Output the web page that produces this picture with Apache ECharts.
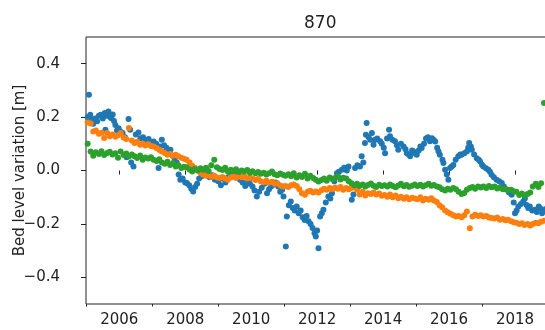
<!DOCTYPE html>
<html>
<head>
<meta charset="utf-8">
<script src="https://cdn.jsdelivr.net/npm/echarts@6.0.0/dist/echarts.min.js"></script>
<style>
  body { margin: 0; padding: 0; background: #fff; overflow: hidden; }
  #chart { width: 545px; height: 330px; }
</style>
</head>
<body>
<div id="chart"></div>
<script>
// monthly sample dates (decimal years) shared by the orange and green series
const sampleYears = [
  2005.04, 2005.13, 2005.21, 2005.29, 2005.38, 2005.46, 2005.54, 2005.63, 2005.71, 2005.79, 2005.88, 2005.96,
  2006.04, 2006.13, 2006.21, 2006.29, 2006.38, 2006.46, 2006.54, 2006.63, 2006.71, 2006.79, 2006.88, 2006.96,
  2007.04, 2007.13, 2007.21, 2007.29, 2007.38, 2007.46, 2007.54, 2007.63, 2007.71, 2007.79, 2007.88, 2007.96,
  2008.04, 2008.13, 2008.21, 2008.29, 2008.38, 2008.46, 2008.54, 2008.63, 2008.71, 2008.79, 2008.88, 2008.96,
  2009.04, 2009.13, 2009.21, 2009.29, 2009.38, 2009.46, 2009.54, 2009.63, 2009.71, 2009.79, 2009.88, 2009.96,
  2010.04, 2010.13, 2010.21, 2010.29, 2010.38, 2010.46, 2010.54, 2010.63, 2010.71, 2010.79, 2010.88, 2010.96,
  2011.04, 2011.13, 2011.21, 2011.29, 2011.38, 2011.46, 2011.54, 2011.63, 2011.71, 2011.79, 2011.88, 2011.96,
  2012.04, 2012.13, 2012.21, 2012.29, 2012.38, 2012.46, 2012.54, 2012.63, 2012.71, 2012.79, 2012.88, 2012.96,
  2013.04, 2013.13, 2013.21, 2013.29, 2013.38, 2013.46, 2013.54, 2013.63, 2013.71, 2013.79, 2013.88, 2013.96,
  2014.04, 2014.13, 2014.21, 2014.29, 2014.38, 2014.46, 2014.54, 2014.63, 2014.71, 2014.79, 2014.88, 2014.96,
  2015.04, 2015.13, 2015.21, 2015.29, 2015.38, 2015.46, 2015.54, 2015.63, 2015.71, 2015.79, 2015.88, 2015.96,
  2016.04, 2016.13, 2016.21, 2016.29, 2016.38, 2016.46, 2016.54, 2016.63, 2016.71, 2016.79, 2016.88, 2016.96,
  2017.04, 2017.13, 2017.21, 2017.29, 2017.38, 2017.46, 2017.54, 2017.63, 2017.71, 2017.79, 2017.88, 2017.96,
  2018.04, 2018.13, 2018.21, 2018.29, 2018.38, 2018.46, 2018.54, 2018.63, 2018.71, 2018.79, 2018.88, 2018.96
];

const orangeVals = [
  0.180, 0.176, 0.146, 0.150, 0.138, 0.141, 0.122, 0.140, 0.128, 0.135, 0.126, 0.132,
  0.140, 0.124, 0.118, 0.159, 0.112, 0.103, 0.108, 0.096, 0.100, 0.094, 0.098, 0.092,
  0.090, 0.084, 0.078, 0.071, 0.066, 0.059, 0.062, 0.055, 0.059, 0.053, 0.048, 0.044,
  0.040, 0.030, 0.018, 0.010, 0.000, -0.008, -0.015, -0.020, -0.018, -0.024, -0.020, -0.026,
  -0.028, -0.024, -0.030, -0.035, -0.026, -0.022, -0.028, -0.020, -0.025, -0.022, -0.030, -0.026,
  -0.030, -0.036, -0.032, -0.040, -0.044, -0.038, -0.046, -0.042, -0.050, -0.048, -0.056, -0.060,
  -0.058, -0.062, -0.055, -0.052, -0.058, -0.070, -0.085, -0.091, -0.080, -0.076, -0.082, -0.079,
  -0.082, -0.074, -0.068, -0.072, -0.066, -0.070, -0.064, -0.068, -0.062, -0.072, -0.066, -0.070,
  -0.066, -0.060, -0.072, -0.090, -0.080, -0.094, -0.085, -0.088, -0.082, -0.090, -0.086, -0.095,
  -0.092, -0.098, -0.090, -0.100, -0.094, -0.104, -0.098, -0.106, -0.100, -0.108, -0.102, -0.105,
  -0.108, -0.100, -0.112, -0.106, -0.110, -0.104, -0.112, -0.118, -0.130, -0.138, -0.150, -0.156,
  -0.162, -0.168, -0.172, -0.170, -0.175, -0.168, -0.154, -0.216, -0.172, -0.166, -0.170, -0.168,
  -0.172, -0.170, -0.176, -0.178, -0.180, -0.176, -0.184, -0.182, -0.186, -0.184, -0.190, -0.194,
  -0.196, -0.200, -0.198, -0.204, -0.200, -0.206, -0.200, -0.196, -0.198, -0.192, -0.188, -0.185
];

const greenVals = [
  0.100, 0.071, 0.055, 0.068, 0.062, 0.072, 0.058, 0.066, 0.070, 0.060, 0.065, 0.048,
  0.071, 0.058, 0.064, 0.052, 0.060, 0.053, 0.047, 0.056, 0.040, 0.049, 0.045, 0.050,
  0.040, 0.036, 0.042, 0.030, 0.025, 0.033, 0.021, 0.028, 0.015, 0.020, 0.009, 0.014,
  0.012, 0.004, -0.004, 0.006, 0.000, 0.008, 0.003, 0.010, -0.002, 0.020, 0.040, 0.012,
  0.006, 0.002, 0.010, -0.004, 0.003, -0.002, 0.005, -0.006, 0.000, -0.004, 0.002, -0.008,
  -0.003, -0.010, -0.006, -0.012, -0.008, -0.015, -0.010, -0.004, -0.014, -0.018, -0.011, -0.016,
  -0.020, -0.014, -0.022, -0.010, -0.026, -0.018, -0.024, -0.012, -0.030, -0.020, -0.028, -0.035,
  -0.041, -0.036, -0.030, -0.038, -0.026, -0.032, -0.028, -0.022, -0.034, -0.027, -0.030, -0.040,
  -0.048, -0.055, -0.050, -0.058, -0.052, -0.060, -0.054, -0.049, -0.057, -0.062, -0.053, -0.058,
  -0.055, -0.060, -0.052, -0.058, -0.063, -0.056, -0.050, -0.059, -0.054, -0.061, -0.057, -0.052,
  -0.058, -0.053, -0.060, -0.055, -0.050, -0.057, -0.054, -0.060, -0.063, -0.070, -0.075, -0.068,
  -0.072, -0.066, -0.070, -0.080, -0.088, -0.084, -0.072, -0.066, -0.062, -0.068, -0.060, -0.064,
  -0.060, -0.066, -0.058, -0.063, -0.060, -0.067, -0.064, -0.070, -0.068, -0.074, -0.072, -0.078,
  -0.080, -0.092, -0.086, -0.094, -0.088, -0.082, -0.060, -0.050, -0.062, -0.048, 0.253, -0.055
];

// blue series is irregular, so it keeps its own dates: [year, value]
const bluePoints = [
  [2005.04, 0.200], [2005.08, 0.284], [2005.12, 0.209], [2005.17, 0.190], [2005.21, 0.175], [2005.27, 0.195],
  [2005.33, 0.184], [2005.38, 0.205], [2005.44, 0.209], [2005.50, 0.195], [2005.56, 0.215], [2005.58, 0.153],
  [2005.62, 0.205], [2005.67, 0.221], [2005.72, 0.200], [2005.76, 0.196], [2005.80, 0.210], [2005.84, 0.185],
  [2005.88, 0.170], [2005.93, 0.150], [2005.98, 0.158],
  [2006.04, 0.145], [2006.10, 0.140], [2006.17, 0.125], [2006.22, 0.050], [2006.28, 0.193], [2006.33, 0.153],
  [2006.36, 0.030], [2006.43, 0.015], [2006.50, 0.135], [2006.58, 0.142], [2006.64, 0.121], [2006.72, 0.125],
  [2006.80, 0.112], [2006.89, 0.118], [2006.96, 0.105],
  [2007.04, 0.109], [2007.12, 0.100], [2007.19, 0.009], [2007.24, 0.090], [2007.29, 0.115], [2007.36, 0.095],
  [2007.43, 0.085], [2007.50, 0.070], [2007.55, 0.078], [2007.62, 0.055], [2007.68, 0.045], [2007.74, 0.030],
  [2007.80, -0.015], [2007.85, -0.035], [2007.92, -0.030],
  [2008.00, -0.045], [2008.05, -0.047], [2008.12, -0.055], [2008.18, -0.068], [2008.24, -0.079], [2008.30, -0.062],
  [2008.36, -0.050], [2008.42, -0.030], [2008.50, -0.022], [2008.58, -0.015], [2008.66, -0.010], [2008.74, -0.025],
  [2008.82, -0.018], [2008.90, -0.035],
  [2009.00, -0.040], [2009.08, -0.055], [2009.14, -0.030], [2009.22, -0.045], [2009.30, -0.025], [2009.40, -0.015],
  [2009.50, -0.010], [2009.58, -0.020], [2009.66, -0.035], [2009.74, -0.045], [2009.82, -0.058], [2009.90, -0.040],
  [2009.96, -0.050],
  [2010.04, -0.060], [2010.10, -0.075], [2010.17, -0.097], [2010.24, -0.080], [2010.32, -0.065], [2010.40, -0.050],
  [2010.48, -0.085], [2010.54, -0.070], [2010.60, -0.060], [2010.66, -0.054], [2010.74, -0.045], [2010.82, -0.060],
  [2010.88, -0.080], [2010.94, -0.072], [2010.98, -0.097],
  [2011.05, -0.285], [2011.08, -0.172], [2011.14, -0.130], [2011.20, -0.116], [2011.26, -0.140], [2011.32, -0.150],
  [2011.38, -0.135], [2011.44, -0.160], [2011.50, -0.150], [2011.56, -0.175], [2011.62, -0.185], [2011.68, -0.170],
  [2011.74, -0.190], [2011.80, -0.200], [2011.86, -0.215], [2011.92, -0.235], [2011.96, -0.247],
  [2012.00, -0.225], [2012.04, -0.291], [2012.09, -0.172], [2012.14, -0.160], [2012.19, -0.147], [2012.26, -0.120],
  [2012.34, -0.097], [2012.40, -0.105], [2012.45, -0.085], [2012.52, -0.040], [2012.60, -0.010], [2012.66, -0.005],
  [2012.75, 0.003], [2012.82, 0.010], [2012.90, 0.000], [2012.95, 0.015],
  [2013.05, -0.110], [2013.10, -0.090], [2013.15, 0.009], [2013.22, 0.020], [2013.30, 0.015], [2013.35, 0.053],
  [2013.40, 0.030], [2013.45, 0.103], [2013.48, 0.134], [2013.50, 0.178], [2013.56, 0.125], [2013.61, 0.115],
  [2013.66, 0.140], [2013.71, 0.096], [2013.76, 0.115], [2013.82, 0.120], [2013.91, 0.110], [2013.96, 0.100],
  [2014.02, 0.085], [2014.06, 0.065], [2014.12, 0.120], [2014.18, 0.153], [2014.21, 0.128], [2014.28, 0.115],
  [2014.36, 0.110], [2014.42, 0.095], [2014.46, 0.078], [2014.54, 0.100], [2014.62, 0.090], [2014.68, 0.080],
  [2014.72, 0.065], [2014.78, 0.060], [2014.82, 0.053], [2014.88, 0.075], [2014.92, 0.071], [2014.97, 0.065],
  [2015.02, 0.059], [2015.08, 0.075], [2015.13, 0.090], [2015.17, 0.084], [2015.24, 0.100], [2015.30, 0.120],
  [2015.36, 0.125], [2015.42, 0.110], [2015.48, 0.121], [2015.53, 0.115], [2015.58, 0.109], [2015.64, 0.085],
  [2015.68, 0.071], [2015.72, 0.059], [2015.80, 0.040], [2015.83, 0.028], [2015.88, 0.003], [2015.93, -0.015],
  [2015.98, -0.035],
  [2016.03, 0.009], [2016.08, 0.015], [2016.13, 0.021], [2016.20, 0.040], [2016.28, 0.053], [2016.34, 0.060],
  [2016.38, 0.059], [2016.46, 0.065], [2016.54, 0.071], [2016.58, 0.085], [2016.61, 0.103], [2016.66, 0.090],
  [2016.69, 0.078], [2016.76, 0.060], [2016.84, 0.046], [2016.90, 0.040], [2016.94, 0.034],
  [2017.00, 0.022], [2017.04, 0.015], [2017.12, 0.008], [2017.19, 0.003], [2017.24, -0.005], [2017.29, -0.016],
  [2017.36, -0.025], [2017.44, -0.035], [2017.52, -0.040], [2017.60, -0.047], [2017.66, -0.060], [2017.75, -0.072],
  [2017.82, -0.082], [2017.90, -0.091], [2017.96, -0.120],
  [2018.00, -0.160], [2018.05, -0.150], [2018.10, -0.135], [2018.18, -0.125], [2018.25, -0.116], [2018.30, -0.105],
  [2018.35, -0.129], [2018.40, -0.140], [2018.45, -0.135], [2018.52, -0.150], [2018.60, -0.147], [2018.66, -0.155],
  [2018.72, -0.135], [2018.76, -0.141], [2018.82, -0.160], [2018.86, -0.153], [2018.92, -0.145]
];

const majorYears = [2006, 2008, 2010, 2012, 2014, 2016, 2018];
const minorYears = [2005, 2007, 2009, 2011, 2013, 2015, 2017];
const yTicks = [-0.4, -0.2, 0, 0.2, 0.4];

const chart = echarts.init(document.getElementById('chart'), null, { renderer: 'canvas' });

const font = 'DejaVu Sans';
const ink = '#222';
const xMin = 2004.99, xMax = 2018.94;

const zip = vals => sampleYears.map((yr, i) => [yr, vals[i]]);

chart.setOption({
  animation: false,
  backgroundColor: '#fff',
  title: {
    text: '870',
    left: 299,
    top: 10,
    textStyle: { fontFamily: font, fontSize: 17, fontWeight: 'normal', color: ink }
  },
  grid: {
    left: 86, top: 37, width: 460, height: 267,
    outerBoundsMode: 'none',
    containLabel: false,
    show: true, borderColor: ink, borderWidth: 1, backgroundColor: 'transparent'
  },
  xAxis: [{
    type: 'value',
    min: xMin, max: xMax,
    axisLine: { show: false },
    splitLine: { show: false },
    axisTick: { customValues: majorYears, length: 4, lineStyle: { color: ink } },
    axisLabel: {
      customValues: majorYears, margin: 9,
      fontFamily: font, fontSize: 15, color: ink,
      formatter: v => String(v)
    }
  }, {
    type: 'value',
    min: xMin, max: xMax,
    position: 'bottom',
    axisLine: { show: false },
    splitLine: { show: false },
    axisLabel: { show: false },
    axisTick: { customValues: minorYears, length: 2.5, lineStyle: { color: ink } }
  }],
  yAxis: {
    type: 'value',
    min: -0.5, max: 0.5,
    name: 'Bed level variation [m]',
    nameLocation: 'middle',
    nameGap: 58,
    nameMoveOverlap: false,
    nameTextStyle: { fontFamily: font, fontSize: 15, color: ink },
    axisLine: { show: false },
    splitLine: { show: false },
    axisTick: { customValues: yTicks, length: 5, lineStyle: { color: ink } },
    axisLabel: {
      customValues: yTicks, margin: 26,
      fontFamily: font, fontSize: 15, color: ink,
      formatter: v => (v < 0 ? '\u2212' : '') + Math.abs(v).toFixed(1)
    }
  },
  series: [
    { type: 'scatter', data: bluePoints, symbolSize: 6, itemStyle: { color: '#1f77b4', opacity: 1 } },
    { type: 'scatter', data: zip(orangeVals), symbolSize: 6, itemStyle: { color: '#ff7f0e', opacity: 1 } },
    { type: 'scatter', data: zip(greenVals), symbolSize: 6, itemStyle: { color: '#2ca02c', opacity: 1 } }
  ]
});
</script>
</body>
</html>
